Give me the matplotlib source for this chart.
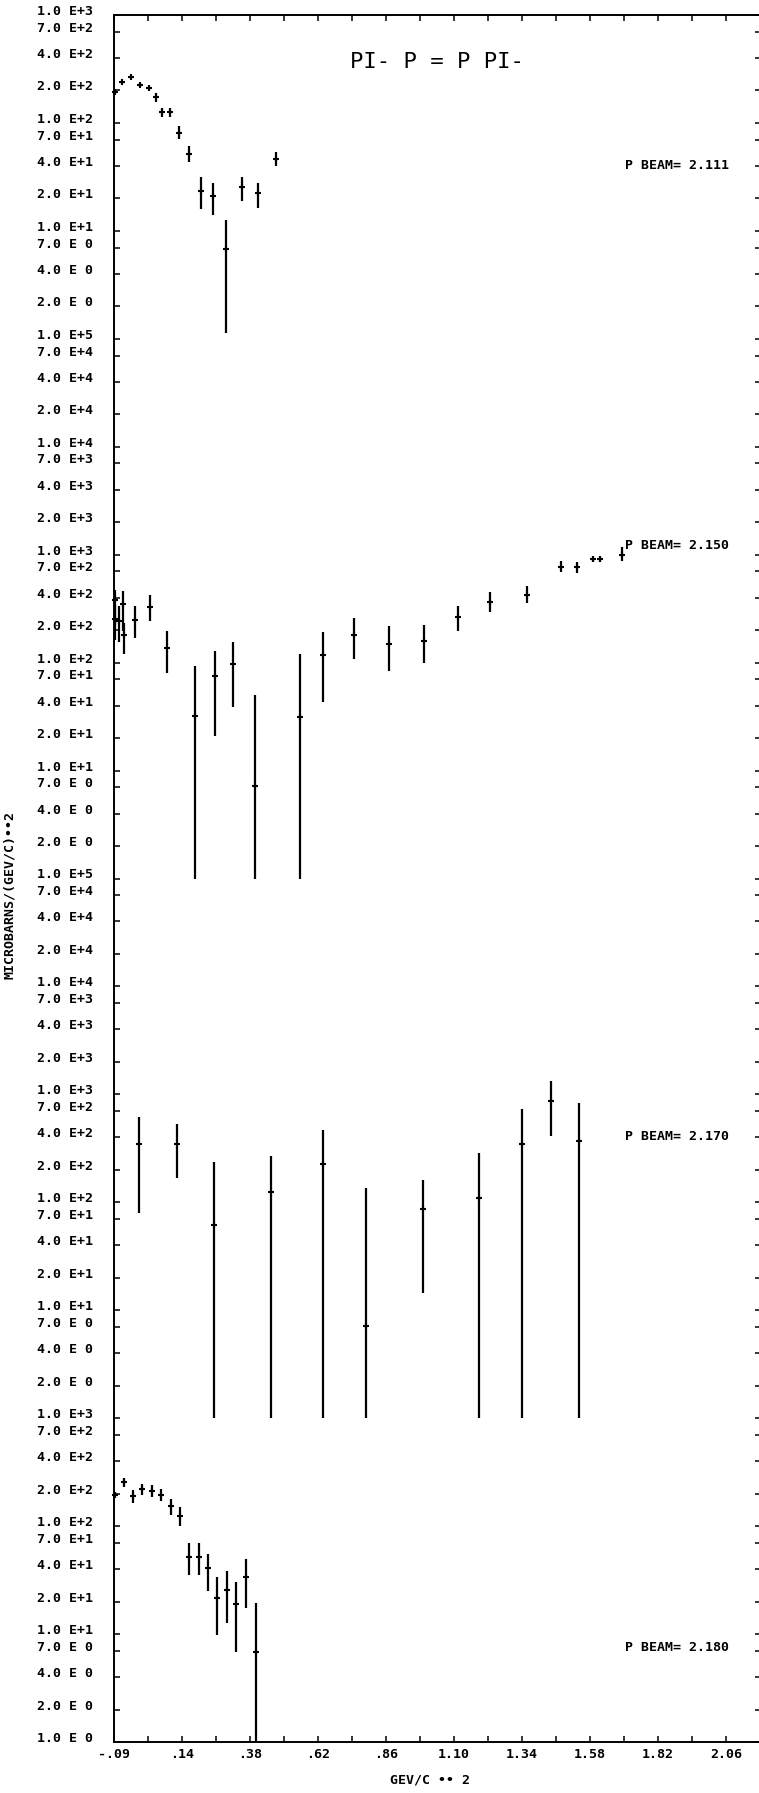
import numpy as np
import matplotlib.pyplot as plt
from matplotlib.ticker import FixedLocator, NullLocator

# t values (GeV/c)**2, cross sections (microbarns/(GeV/c)**2) with error limits
# P BEAM = 2.111
t1 = [-0.088, -0.062, -0.030, 0.003, 0.032, 0.056, 0.078, 0.106, 0.138, 0.173,
      0.217, 0.258, 0.305, 0.360, 0.416, 0.478]
s1 = [195, 238, 265, 225, 210, 173, 125, 125, 81.3, 51.6, 23.6, 21.2, 6.77, 25.4, 22.4, 46.4]
lo1 = [187, 229, 255, 215, 200, 157, 114, 114, 71, 43.8, 15.9, 14.1, 1.13, 19.1, 16.4, 40.0]
hi1 = [203, 247, 275, 235, 220, 190, 138, 138, 93, 61.3, 31.4, 27.7, 12.5, 31.4, 28.0, 54.2]

# P BEAM = 2.150
t2 = [-0.088, -0.088, -0.074, -0.058, -0.055, -0.016, 0.037, 0.096, 0.195, 0.265,
      0.328, 0.404, 0.565, 0.643, 0.753, 0.877, 1.001, 1.119, 1.231, 1.362,
      1.481, 1.537, 1.592, 1.619, 1.696]
s2 = [383, 254, 241, 352, 182, 250, 325, 137, 32.3, 74.7, 97.3, 7.27, 31.4, 117, 180,
      148, 159, 265, 367, 424, 774, 763, 912, 912, 1000]
lo2 = [225, 163, 156, 195, 119, 169, 241, 80, 1, 20.8, 38.9, 1, 1, 43.1, 107,
       84.3, 99.3, 195, 292, 357, 686, 681, 856, 856, 867]
hi2 = [474, 345, 337, 457, 235, 332, 420, 195, 93.8, 129, 155, 50.6, 119, 191, 259,
       217, 225, 337, 452, 509, 867, 861, 970, 970, 1186]

# P BEAM = 2.170
t3 = [-0.001, 0.131, 0.263, 0.462, 0.644, 0.796, 0.995, 1.194, 1.343, 1.446, 1.543]
s3 = [347, 349, 61.3, 124, 228, 7.21, 86.1, 110, 350, 875, 373]
lo3 = [79.6, 168, 1, 1, 1, 1, 14.5, 1, 1, 415, 1]
hi3 = [612, 535, 236, 271, 471, 136, 162, 286, 738, 1340, 831]

# P BEAM = 2.180
t4 = [-0.088, -0.056, -0.023, 0.010, 0.044, 0.075, 0.109, 0.141, 0.174, 0.208,
      0.241, 0.273, 0.307, 0.340, 0.375, 0.408]
s4 = [196, 254, 191, 219, 211, 196, 154, 124, 52.0, 52.0, 40.6, 21.4, 25.6, 18.8, 33.5, 6.86]
lo4 = [186, 231, 164, 194, 187, 171, 126, 100, 35.2, 35.2, 25.2, 9.8, 12.6, 6.86, 17.5, 1]
hi4 = [206, 282, 215, 245, 240, 223, 180, 151, 69.2, 69.2, 55.1, 33.5, 38.3, 30.5, 49.4, 19.6]

beams = ['2.111', '2.150', '2.170', '2.180']
beam_t = 1.706
beam_s = [40.7, 1225, 408, 7.5]

# each panel is stacked on one log axis, shifted by some decades
shift = [13, 8, 3, 0]
seg_top = [3, 8, 13, 16]    # decade where each label scale ends
seg_div = [0, 3, 8, 13]
mant = [1, 2, 4, 7]

x_ticks = [-0.09 + 0.1195 * i for i in range(19)]
x_labels = ['-.09', '.14', '.38', '.62', '.86', '1.10', '1.34', '1.58', '1.82', '2.06']

mono = ['DejaVu Sans Mono', 'DejaVu Sans']

fig = plt.figure(figsize=(7.59, 17.93), dpi=100)
ax = fig.add_axes([114 / 759, 51 / 1793, 647 / 759, 1727 / 1793])

panels = [(t1, s1, lo1, hi1), (t2, s2, lo2, hi2), (t3, s3, lo3, hi3), (t4, s4, lo4, hi4)]
for (t, s, lo, hi), k in zip(panels, shift):
    m = 10.0 ** k
    s = np.array(s) * m
    lo = np.array(lo) * m
    hi = np.array(hi) * m
    ax.errorbar(t, s, yerr=[s - lo, hi - s], fmt='+', ms=5, mew=1.5,
                elinewidth=1.6, color='black', capsize=0, clip_on=False)

for b, y, k in zip(beams, beam_s, shift):
    ax.text(beam_t, y * 10.0 ** k, 'P BEAM= ' + b, ha='left', va='center',
            family=mono, weight='bold', fontsize=9.5)

ax.set_yscale('log')
ax.set_ylim(1, 1e16)
ax.set_xlim(-0.09, 2.184)

# y ticks and their odd stacked labels
yt, yl = [], []
for d in range(16):
    for mm in mant:
        yt.append(mm * 10.0 ** d)
yt.append(1e16)
for u in yt:
    lg = np.log10(u)
    i = 0
    while lg > seg_top[i] + 1e-9:
        i += 1
    d = int(np.floor(lg + 1e-9))
    mm = u / 10.0 ** d
    e = d - seg_div[i]
    yl.append('%.1f E%s' % (mm, '+%d' % e if e > 0 else ' 0'))
ax.yaxis.set_major_locator(FixedLocator(yt))
ax.yaxis.set_minor_locator(NullLocator())
ax.set_yticklabels(yl, family=mono, weight='bold', fontsize=9.5, va='baseline')

ax.set_xticks(x_ticks)
ax.set_xticklabels([x_labels[i // 2] if i % 2 == 0 else '' for i in range(len(x_ticks))],
                   family=mono, weight='bold', fontsize=9.5)

ax.tick_params(axis='y', direction='in', length=4.5, width=1.1, pad=15,
               left=True, right=True)
ax.tick_params(axis='x', direction='in', length=4, width=1.1, pad=4,
               top=True, bottom=True)
for sp in ax.spines.values():
    sp.set_linewidth(1.4)

fig.text(437 / 759, 1 - 62 / 1793, 'PI- P = P PI-', ha='center', va='center',
         fontsize=16, family=mono)
fig.text(10 / 759, 1 - 895 / 1793, 'MICROBARNS/(GEV/C)••2', rotation=90,
         ha='center', va='center', family=mono, weight='bold', fontsize=9.5)
fig.text(430 / 759, 1 - 1780 / 1793, 'GEV/C •• 2', ha='center', va='center',
         family=mono, weight='bold', fontsize=9.5)

fig.savefig('out.png', dpi=100)
